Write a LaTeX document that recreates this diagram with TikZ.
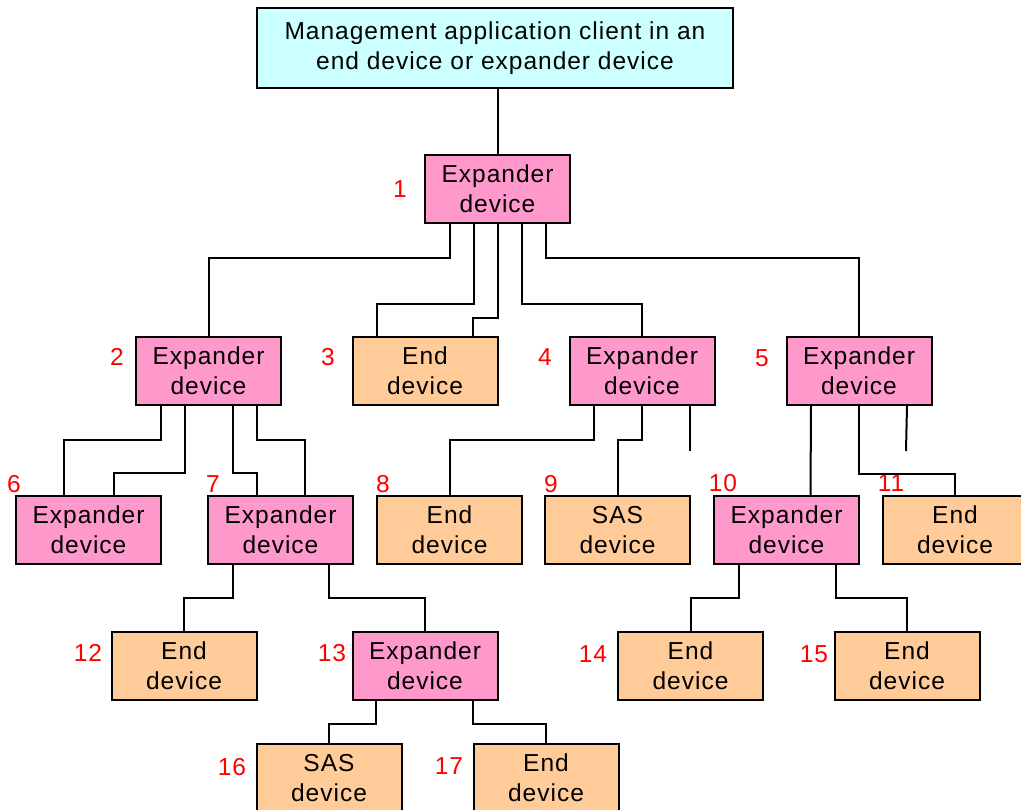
\documentclass[tikz,border=0pt]{standalone}
\usepackage{fontspec}
\setmainfont{Liberation Sans}[LetterSpace=4]
\usetikzlibrary{calc}
\definecolor{mgmt}{HTML}{CCFFFF}
\definecolor{expc}{HTML}{FF99CC}
\definecolor{endc}{HTML}{FFCC99}
\definecolor{lblred}{HTML}{FF0000}
\begin{document}
\begin{tikzpicture}[x=0.75pt,y=-0.75pt,
  box/.style={draw=black,line width=1.5pt,inner sep=0pt,minimum width=108.75pt,minimum height=51pt,align=center,font=\fontsize{18.4pt}{22.5pt}\selectfont},
  expbox/.style={box,fill=expc},
  endbox/.style={box,fill=endc},
  lbl/.style={text=lblred,inner sep=0pt,font=\fontsize{18.4pt}{22.5pt}\selectfont},
  wire/.style={line width=1.5pt,line join=miter}]
\useasboundingbox (0,0) rectangle (1021,810);
\node[box,fill=mgmt,minimum width=357pt,minimum height=60pt] (top) at (495,48) {Management application client in an\\end device or expander device};
\node[expbox] (n1) at (497.5,189) {Expander\\device};
\node[expbox] (n2) at (208.5,371) {Expander\\device};
\node[endbox] (n3) at (425,371) {End\\device};
\node[expbox] (n4) at (642,371) {Expander\\device};
\node[expbox] (n5) at (859,371) {Expander\\device};
\node[expbox] (n6) at (88.5,530) {Expander\\device};
\node[expbox] (n7) at (280.5,530) {Expander\\device};
\node[endbox] (n8) at (449.5,530) {End\\device};
\node[endbox] (n9) at (617.5,530) {SAS\\device};
\node[expbox] (n10) at (786.5,530) {Expander\\device};
\node[endbox] (n11) at (955,530) {End\\device};
\node[endbox] (n12) at (184,666) {End\\device};
\node[expbox] (n13) at (425,666) {Expander\\device};
\node[endbox] (n14) at (690.5,666) {End\\device};
\node[endbox] (n15) at (907,666) {End\\device};
\node[endbox] (n16) at (329,778) {SAS\\device};
\node[endbox] (n17) at (546,778) {End\\device};
% labels
\node[lbl] (l1) at (400,189) {1};
\node[lbl] (l2) at (117,357) {2};
\node[lbl] (l3) at (328,357) {3};
\node[lbl] (l4) at (545,357) {4};
\node[lbl] (l5) at (762,358) {5};
\node[lbl] (l6) at (14,484) {6};
\node[lbl] (l7) at (213,484) {7};
\node[lbl] (l8) at (383,484) {8};
\node[lbl] (l9) at (551,484) {9};
\node[lbl] (l10) at (723,483) {10};
\node[lbl] (l11) at (891,483) {11};
\node[lbl] (l12) at (88,653) {12};
\node[lbl] (l13) at (332,653) {13};
\node[lbl] (l14) at (593,654) {14};
\node[lbl] (l15) at (814,654) {15};
\node[lbl] (l16) at (232,767) {16};
\node[lbl] (l17) at (449,766) {17};
% connectors
\draw[wire] (n1.north |- top.south) -- (n1.north);
\draw[wire] ($(n1.south)+(-48,0)$) -- ++(0,34) -| (n2.north);
\draw[wire] ($(n1.south)+(-24,0)$) -- ++(0,80) -| ($(n3.north)+(-48,0)$);
\draw[wire] (n1.south) -- ++(0,94) -| ($(n3.north)+(48,0)$);
\draw[wire] ($(n1.south)+(24,0)$) -- ++(0,80) -| (n4.north);
\draw[wire] ($(n1.south)+(48,0)$) -- ++(0,34) -| (n5.north);
\draw[wire] ($(n2.south)+(-48,0)$) -- ++(0,34) -| ($(n6.north)+(-24.5,0)$);
\draw[wire] ($(n2.south)+(-24,0)$) -- ++(0,67) -| ($(n6.north)+(25.5,0)$);
\draw[wire] ($(n2.south)+(24,0)$) -- ++(0,67) -| ($(n7.north)+(-24,0)$);
\draw[wire] ($(n2.south)+(48,0)$) -- ++(0,34) -| ($(n7.north)+(24,0)$);
\draw[wire] ($(n4.south)+(-48,0)$) -- ++(0,34) -| (n8.north);
\draw[wire] (n4.south) -- ++(0,34) -| (n9.north);
\coordinate (s4) at ($(n4.south)+(48,45)$);
\draw[wire] ($(n4.south)+(48,0)$) -- (s4);
\draw[wire] ($(n5.south)+(-48,0)$) -- ($(n10.north)+(24,0)$);
\draw[wire] (n5.south) -- ++(0,68) -| (n11.north);
\coordinate (s5) at ($(n5.south)+(47,45)$);
\draw[wire] ($(n5.south)+(48,0)$) -- (s5);
\draw[wire] ($(n7.south)+(-48,0)$) -- ++(0,33) -| (n12.north);
\draw[wire] ($(n7.south)+(48,0)$) -- ++(0,33) -| (n13.north);
\draw[wire] ($(n10.south)+(-48,0)$) -- ++(0,33) -| (n14.north);
\draw[wire] ($(n10.south)+(49,0)$) -- ++(0,33) -| (n15.north);
\draw[wire] ($(n13.south)+(-49,0)$) -- ++(0,23) -| (n16.north);
\draw[wire] ($(n13.south)+(48,0)$) -- ++(0,23) -| (n17.north);
\end{tikzpicture}
\end{document}
